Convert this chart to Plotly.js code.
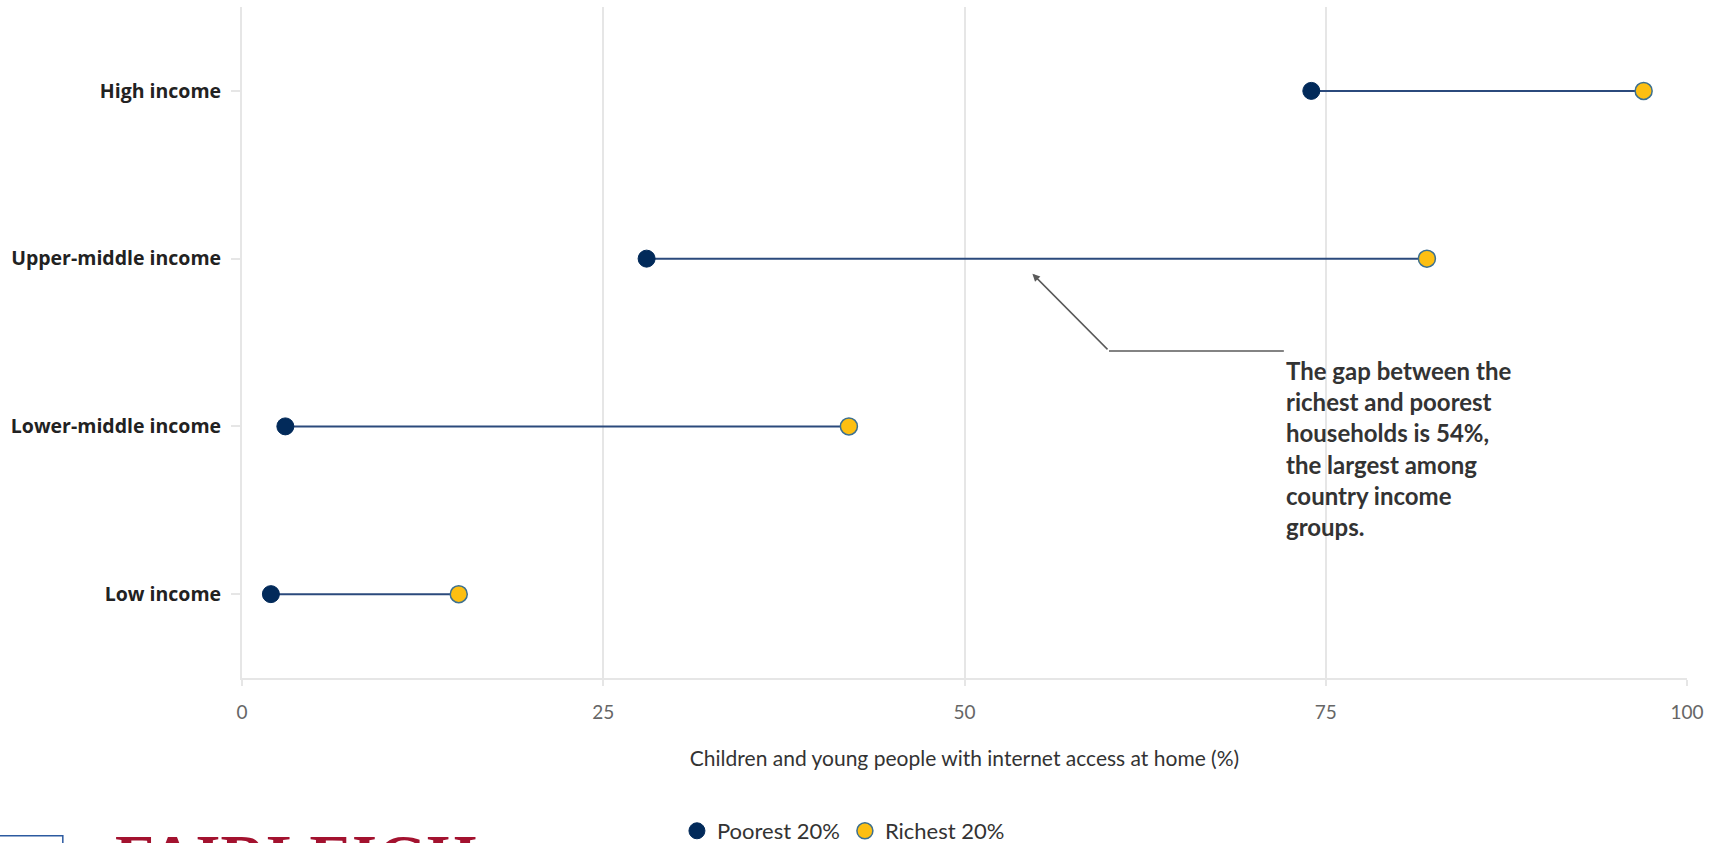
<!DOCTYPE html>
<html>
<head>
<meta charset="utf-8">
<script src="https://cdn.plot.ly/plotly-3.0.1.min.js"></script>
<style>html,body{margin:0;padding:0;background:#fff;}#chart{width:1719px;height:843px;}</style>
</head>
<body>
<div id="chart"></div>
<script>
const categories = ['High income', 'Upper-middle income', 'Lower-middle income', 'Low income'];
const poorest = [74, 28, 3, 2];
const richest = [97, 82, 42, 15];
const seriesNames = ['Poorest 20%', 'Richest 20%'];
const xTicks = [0, 25, 50, 75, 100];
const axisTitle = 'Children and young people with internet access at home (%)';
const noteText = 'The gap between the<br>richest and poorest<br>households is 54%,<br>the largest among<br>country income<br>groups.';
const logoText = 'FAIRLEIGH';

const traces = [];
categories.forEach((c, i) => {
  traces.push({
    x: [poorest[i], richest[i]], y: [c, c], type: 'scatter', mode: 'lines',
    line: {color: '#2b4a7c', width: 2}, showlegend: false, hoverinfo: 'skip'
  });
});
traces.push({
  x: poorest, y: categories, type: 'scatter', mode: 'markers', name: seriesNames[0],
  marker: {size: 17, color: '#022a5a', line: {color: '#022a5a', width: 1}}
});
traces.push({
  x: richest, y: categories, type: 'scatter', mode: 'markers', name: seriesNames[1],
  marker: {size: 17, color: '#fdbf12', line: {color: '#3d7090', width: 1.5}}
});

const layout = {
  width: 1719, height: 843,
  margin: {l: 242, r: 32, t: 7, b: 165, autoexpand: false},
  paper_bgcolor: '#ffffff', plot_bgcolor: '#ffffff',
  font: {family: 'Lato, "Open Sans", sans-serif', color: '#333'},
  showlegend: true,
  legend: {
    orientation: 'h', x: 0.301, xanchor: 'left', y: -0.228, yanchor: 'middle',
    font: {family: 'Lato, sans-serif', size: 22, color: '#333'},
    itemwidth: 30, tracegroupgap: 0
  },
  xaxis: {
    range: [0, 100], tickvals: xTicks, showgrid: true, gridcolor: '#e6e6e6', gridwidth: 2,
    zeroline: false, showline: true, linecolor: '#e6e6e6', linewidth: 2,
    ticks: 'outside', ticklen: 6, tickcolor: '#e6e6e6', tickwidth: 2,
    ticklabelstandoff: 10, automargin: false,
    tickfont: {family: 'Lato, sans-serif', size: 19, color: '#666'},
    title: {text: axisTitle, font: {family: 'Lato, sans-serif', size: 21, color: '#333'}, standoff: 30},
    fixedrange: true
  },
  yaxis: {
    type: 'category', categoryorder: 'array', categoryarray: categories,
    range: [3.5, -0.5], showgrid: false, zeroline: false,
    showline: true, linecolor: '#e6e6e6', linewidth: 2, automargin: false,
    ticks: 'outside', ticklen: 9, tickcolor: '#e6e6e6', tickwidth: 2,
    ticklabelstandoff: 6,
    tickfont: {family: '"Open Sans", sans-serif', size: 19.5, color: '#222', weight: 700},
    fixedrange: true
  },
  shapes: [
    {type: 'line', xref: 'x', yref: 'y', x0: 60, x1: 72.1, y0: 1.55, y1: 1.55,
     line: {color: '#5a5a5a', width: 1.5}},
    {type: 'rect', xref: 'paper', yref: 'paper', x0: -0.172, x1: -0.124, y0: -0.235, y1: -0.4,
     line: {color: '#2c5aa0', width: 1.5}, fillcolor: 'rgba(0,0,0,0)'}
  ],
  annotations: [
    {x: 54.7, y: 1.09, xref: 'x', yref: 'y', ax: 60, ay: 1.55, axref: 'x', ayref: 'y',
     text: '', showarrow: true, arrowhead: 2, arrowsize: 1, arrowwidth: 1.5, arrowcolor: '#5a5a5a'},
    {x: 72.1, y: 1.57, xref: 'x', yref: 'y', xanchor: 'left', yanchor: 'top', align: 'left',
     text: noteText, showarrow: false,
     font: {family: 'Lato, sans-serif', size: 24, color: '#333', weight: 700}},
    {x: -0.089, y: -0.212, xref: 'paper', yref: 'paper', xanchor: 'left', yanchor: 'top',
     text: logoText, showarrow: false,
     font: {family: '"Liberation Serif", serif', size: 64, color: '#a3122f', weight: 700}}
  ]
};

Plotly.newPlot('chart', traces, layout, {displayModeBar: false, responsive: false});
</script>
</body>
</html>
